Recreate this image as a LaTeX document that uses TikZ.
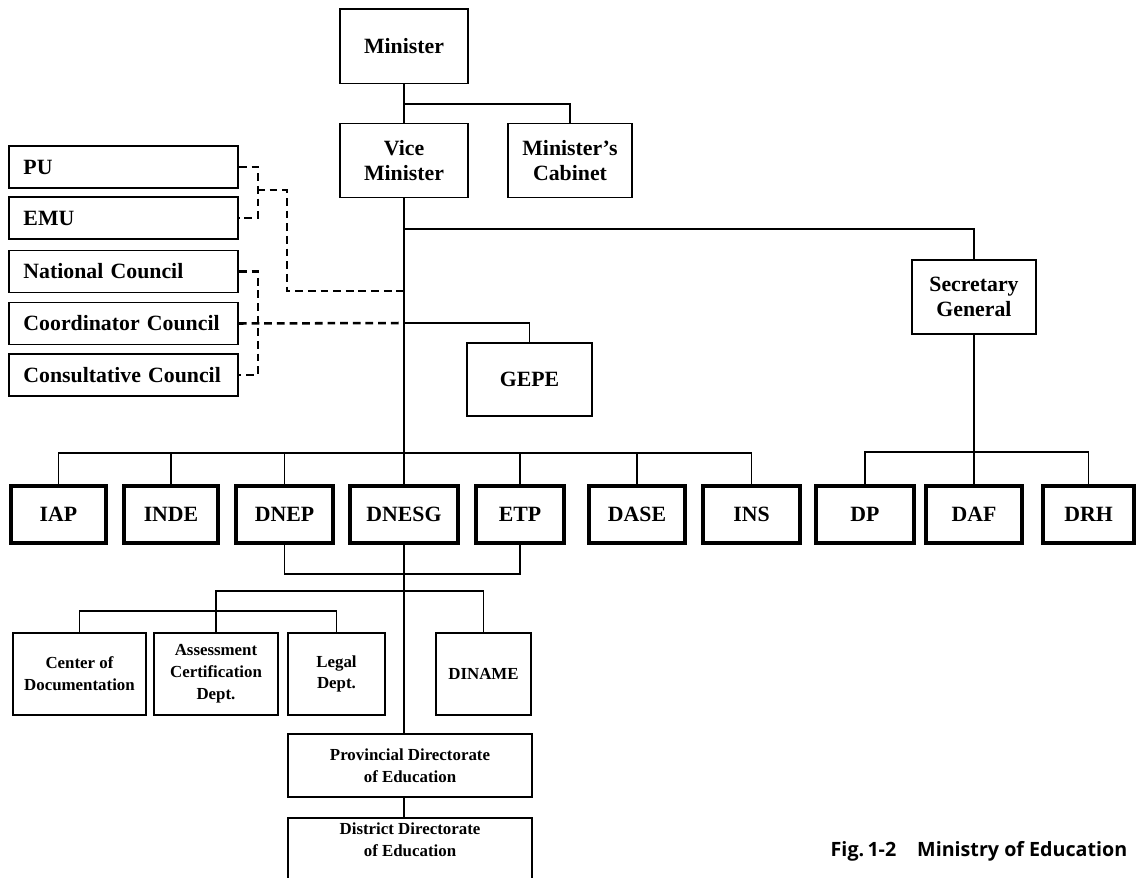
\documentclass[tikz,border=0pt]{standalone}
\usepackage{fontspec}
\setmainfont{Liberation Serif}
\newfontfamily\capfont{Open Sans}

\begin{document}
\begin{tikzpicture}[x=0.025cm,y=-0.025cm,
    box/.style={draw,line width=1.4pt,align=center,font=\bfseries\fontsize{15.5}{18}\selectfont},
    topbox/.style={box,minimum width=3.2cm,minimum height=1.85cm},
    sidebox/.style={box,align=left,text width=5cm,inner xsep=0.36cm,minimum height=1.05cm},
    unitbox/.style={box,line width=2.4pt,minimum height=1.425cm},
    subbox/.style={box,minimum height=2.05cm,font=\bfseries\fontsize{12}{15.5}\selectfont},
    link/.style={line width=1.3pt},
    trunk/.style={line width=2pt},
    dashlink/.style={line width=1.8pt,dash pattern=on 5.5pt off 3.5pt}]
    \useasboundingbox (0,0) rectangle (1136,878);
    \node[topbox] (minister) at (404,46.5) {Minister};
    \node[topbox] (vice) at (404,160.5) {Vice\\Minister};
    \node[topbox,minimum width=3.1cm] (cabinet) at (570,160.5) {Minister's\\Cabinet};
    \node[topbox,minimum width=3.1cm] (secgen) at (974,297) {Secretary\\General};
    \node[topbox,minimum width=3.125cm,minimum height=1.825cm] (gepe) at (529.5,379.5) {GEPE};
    \node[sidebox] (pu) at (123.5,167) {PU};
    \node[sidebox] (emu) at (123.5,218) {EMU};
    \node[sidebox] (natc) at (123.5,271.5) {National Council};
    \node[sidebox] (coordc) at (123.5,323.5) {Coordinator Council};
    \node[sidebox] (consc) at (123.5,375) {Consultative Council};
    \node[unitbox,minimum width=2.375cm] (iap) at (58.5,514.5) {IAP};
    \node[unitbox,minimum width=2.35cm] (inde) at (171,514.5) {INDE};
    \node[unitbox,minimum width=2.425cm] (dnep) at (284.5,514.5) {DNEP};
    \node[unitbox,minimum width=2.7cm] (dnesg) at (404,514.5) {DNESG};
    \node[unitbox,minimum width=2.2cm] (etp) at (520,514.5) {ETP};
    \node[unitbox,minimum width=2.4cm] (dase) at (637,514.5) {DASE};
    \node[unitbox,minimum width=2.425cm] (ins) at (751.5,514.5) {INS};
    \node[unitbox,minimum width=2.45cm] (dp) at (865,514.5) {DP};
    \node[unitbox,minimum width=2.4cm] (daf) at (974,514.5) {DAF};
    \node[unitbox,minimum width=2.275cm] (drh) at (1088.5,514.5) {DRH};
    \node[subbox,minimum width=3.325cm] (cdoc) at (79.5,674) {Center of\\Documentation};
    \node[subbox,minimum width=3.1cm] (assess) at (216,674) {Assessment\\Certification\\Dept.};
    \node[subbox,minimum width=2.425cm] (legal) at (336.5,674) {Legal\\Dept.};
    \node[subbox,minimum width=2.375cm] (diname) at (483.5,674) {DINAME};
    \node[subbox,minimum width=6.075cm,minimum height=1.575cm] (provdir) at (410,765.5) {Provincial Directorate\\of Education};
    \node[subbox,minimum width=6.075cm,minimum height=0cm,anchor=north,text depth=1.6cm] (distdir) at (410,817) {District Directorate\\of Education};
    \node[font=\capfont\bfseries\fontsize{14}{16}\selectfont] (caption) at (979,851) {Fig.\,1-2\hspace{0.8em} Ministry of Education};
    \coordinate (jcab) at (404,104);
    \coordinate (jsec) at (404,229);
    \coordinate (jpu) at (404,291);
    \coordinate (jcoord) at (404,323);
    \coordinate (pubr) at (257,190);
    \draw[trunk] (minister) to (vice);
    \draw[link] (jcab) -| (cabinet.north);
    \draw[trunk] (vice) to (dnesg);
    \draw[link] (jsec) -| (secgen.north);
    \draw[dashlink] (pu.east) -- ++(19,0) |- (emu.east);
    \draw[dashlink] (natc.east) -- ++(19,0) |- (consc.east);
    \draw[dashlink] (pubr) -- ++(30,0) |- (jpu);
    \draw[dashlink] (coordc.east) -- (jcoord);
    \draw[link] (jcoord) -| (gepe.north);
    \draw[link] (iap.north) -- ++(0,-31) -| (ins.north);
    \foreach \u in {inde,dnep,etp,dase}
        \draw[link] (\u.north) -- ++(0,-31);
    \draw[link] (dp.north) -- ++(0,-32) -| (drh.north);
    \draw[trunk] (secgen) to (daf);
    \draw[link] (dnep.south) -- ++(0,29) -| (etp.south);
    \draw[trunk] (dnesg.south) -- (dnesg.south |- provdir.north);
    \draw[trunk] (dnesg.south |- provdir.south) -- (dnesg.south |- distdir.north);
    \draw[link] (assess.north) -- ++(0,-41) -| (diname.north);
    \draw[link] (cdoc.north) -- ++(0,-21) -| (legal.north);
\end{tikzpicture}
\end{document}
